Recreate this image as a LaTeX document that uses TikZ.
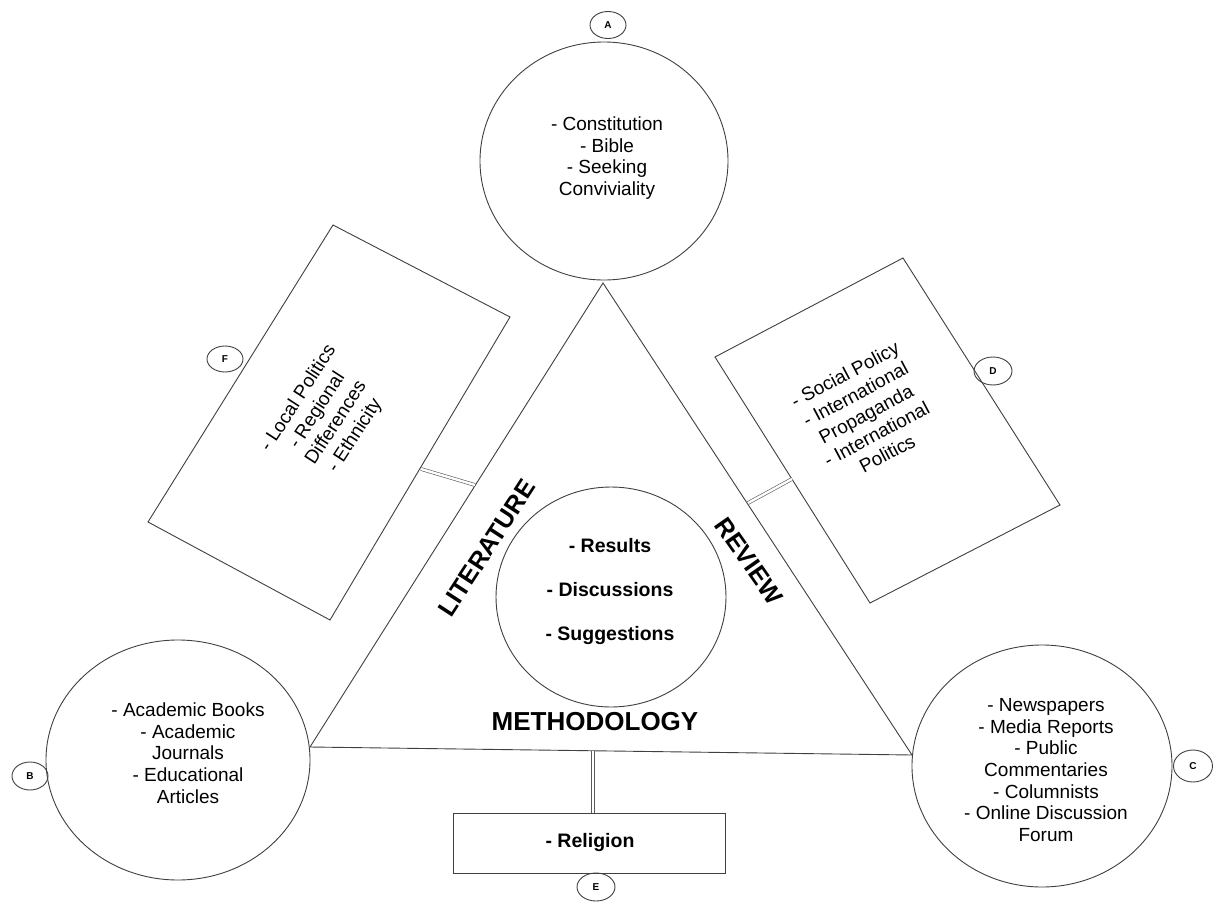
\documentclass[tikz,border=0pt]{standalone}
\usepackage{fontspec}
\setmainfont{Liberation Sans}
\usetikzlibrary{shapes.geometric}
\begin{document}
\begin{tikzpicture}[x=1pt,y=-1pt,
  ln/.style={draw=black!75, line width=0.9pt},
  bubble/.style={ellipse, ln, inner sep=0pt},
  tag/.style={ellipse, ln, inner sep=0pt, font=\bfseries\fontsize{10}{12}\selectfont},
  body/.style={align=center, font=\fontsize{19}{21.7}\selectfont, inner sep=0pt},
  rbody/.style={align=center, font=\fontsize{19}{22.5}\selectfont, inner sep=0pt},
  bbody/.style={align=center, font=\bfseries\fontsize{19.5}{44}\selectfont, inner sep=0pt},
  side/.style={font=\bfseries\fontsize{25}{30}\selectfont, inner sep=0pt},
  link/.style={draw=black!65, double=white, double distance=2.4pt, line width=0.6pt}
]
\useasboundingbox (0,0) rectangle (1219,902);
\fill[white] (0,0) rectangle (1219,902);

% triangle
\coordinate (apex) at (603,283);
\coordinate (bl) at (310,747);
\coordinate (br) at (912,755);
\draw[ln] (apex) -- (bl) -- (br) -- cycle;

% big ellipses
\node[bubble, minimum width=248pt, minimum height=238pt] (A) at (604,161) {};
\node[bubble, minimum width=264pt, minimum height=240pt] (B) at (178,760) {};
\node[bubble, minimum width=260pt, minimum height=242pt] (C) at (1042,766) {};
\node[bubble, minimum width=230pt, minimum height=220pt] (M) at (611,597) {};

% texts in ellipses
\node[body] (Atext) at (607,158) {- Constitution\\- Bible\\- Seeking\\Conviviality};
\node[body] (Btext) at (188,753) {- Academic Books\\- Academic\\Journals\\- Educational\\Articles};
\node[body] (Ctext) at (1046,770) {- Newspapers\\- Media Reports\\- Public\\Commentaries\\- Columnists\\- Online Discussion\\Forum};
\node[bbody] (Mtext) at (610,591) {- Results\\- Discussions\\- Suggestions};

% side labels
\node[side, rotate=57] (lit) at (487,548) {LITERATURE};
\node[side, rotate=-55] (rev) at (749,561) {REVIEW};
\node[side, font=\bfseries\fontsize{26}{30}\selectfont] (meth) at (595,722) {METHODOLOGY};

% F box
\coordinate (FT) at (333,225);
\coordinate (FR) at (510,317);
\coordinate (FB) at (330,620);
\coordinate (FL) at (148,522);
\draw[ln] (FT) -- (FR) -- (FB) -- (FL) -- cycle;
\node[rbody, rotate=57] (Ftext) at (327,417) {- Local Politics\\- Regional\\Differences\\- Ethnicity};

% D box
\coordinate (DL) at (715,357);
\coordinate (DT) at (903,258);
\coordinate (DR) at (1060,505);
\coordinate (DB) at (870,603);
\draw[ln] (DL) -- (DT) -- (DR) -- (DB) -- cycle;
\node[rbody, rotate=28] (Dtext) at (866,414) {- Social Policy\\- International\\Propaganda\\- International\\Politics};

% E box
\node[ln, minimum width=272pt, minimum height=60pt, inner sep=0pt,
      font=\bfseries\fontsize{19.5}{22}\selectfont] (E) at (589,843) {};
\node[bbody] (Etext) at (590,842) {- Religion};

% connectors
\coordinate (f1) at (421,469);
\coordinate (f2) at (475,485);
\draw[link] (f1) -- (f2);
\coordinate (d1) at (748,503);
\coordinate (d2) at (792,479);
\draw[link] (d1) -- (d2);
\coordinate (e1) at (593,751);
\draw[link] (e1) -- (E.north -| e1);

% tags
\node[tag, minimum width=36pt, minimum height=27pt] (tA) at (608,25) {A};
\node[tag, minimum width=36pt, minimum height=28pt] (tB) at (30,776) {B};
\node[tag, minimum width=39pt, minimum height=32pt] (tC) at (1193,766) {C};
\node[tag, minimum width=38pt, minimum height=28pt] (tD) at (993,371) {D};
\node[tag, minimum width=38pt, minimum height=28pt] (tE) at (596,887) {E};
\node[tag, minimum width=36pt, minimum height=26pt] (tF) at (225,359) {F};
\end{tikzpicture}
\end{document}
